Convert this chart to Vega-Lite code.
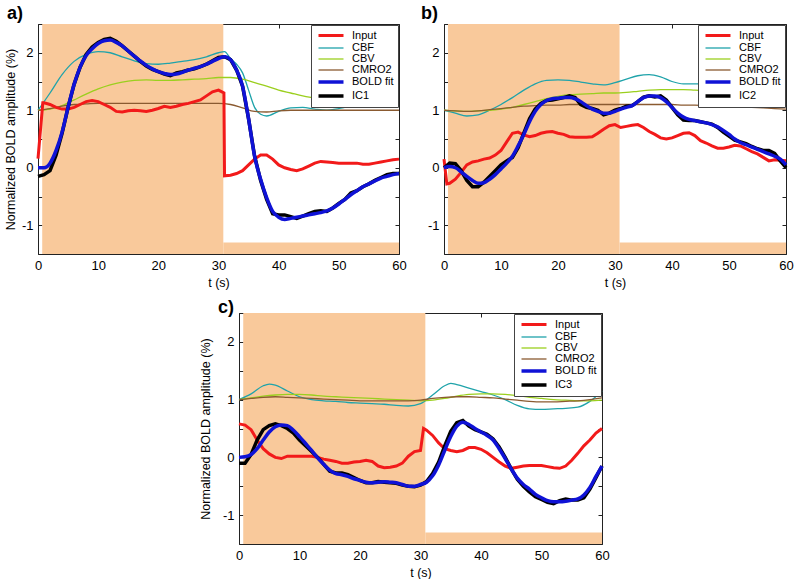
{
"$schema": "https://vega.github.io/schema/vega-lite/v6.json",
"background": "white",
"padding": {"left": 3, "top": 4, "right": 0, "bottom": 0},
"datasets": {
"blocks": [{"t1":0.7,"t2":30.8,"v1":-1.5,"v2":2.5},{"t1":30.8,"t2":60,"v1":-1.5,"v2":-1.3}],
"curves": [
{"p":"a","t":0,"Input":0.16,"BOLD":0,"IC":-0.15,"CBF":1,"CBV":1,"CMRO2":1},
{"p":"a","t":0.8,"Input":1.13},
{"p":"a","t":1,"Input":1.13,"BOLD":0,"IC":-0.12},
{"p":"a","t":2,"Input":1.1,"BOLD":0.08,"IC":-0.05,"CBF":1.3,"CBV":1.02,"CMRO2":1.03},
{"p":"a","t":3,"Input":1.05,"BOLD":0.3,"IC":0.22},
{"p":"a","t":4,"Input":1.02,"BOLD":0.62,"IC":0.6,"CBF":1.62,"CBV":1.08,"CMRO2":1.07},
{"p":"a","t":5,"Input":1.02,"BOLD":1.05,"IC":1.05},
{"p":"a","t":6,"Input":1.05,"BOLD":1.45,"IC":1.45,"CBF":1.85,"CBV":1.18,"CMRO2":1.1},
{"p":"a","t":7,"Input":1.1,"BOLD":1.75,"IC":1.75},
{"p":"a","t":8,"Input":1.15,"BOLD":1.95,"IC":1.97,"CBF":1.97,"CBV":1.28,"CMRO2":1.11},
{"p":"a","t":9,"Input":1.17,"BOLD":2.07,"IC":2.1},
{"p":"a","t":10,"Input":1.15,"BOLD":2.16,"IC":2.18,"CBF":2.02,"CBV":1.37,"CMRO2":1.12},
{"p":"a","t":11,"Input":1.1,"BOLD":2.21,"IC":2.23},
{"p":"a","t":12,"Input":1.05,"BOLD":2.22,"IC":2.25,"CBF":2.0,"CBV":1.44,"CMRO2":1.12},
{"p":"a","t":13,"Input":0.98,"BOLD":2.18,"IC":2.2},
{"p":"a","t":14,"Input":0.97,"BOLD":2.12,"IC":2.12,"CBF":1.93,"CBV":1.49,"CMRO2":1.12},
{"p":"a","t":15,"Input":0.99,"BOLD":2.03,"IC":2.03},
{"p":"a","t":16,"Input":1.0,"BOLD":1.94,"IC":1.94,"CBF":1.86,"CBV":1.52,"CMRO2":1.12},
{"p":"a","t":17,"Input":0.99,"BOLD":1.86,"IC":1.85},
{"p":"a","t":18,"Input":0.98,"BOLD":1.78,"IC":1.77,"CBF":1.81,"CBV":1.53,"CMRO2":1.12},
{"p":"a","t":19,"Input":1.0,"BOLD":1.72,"IC":1.71},
{"p":"a","t":20,"Input":1.03,"BOLD":1.67,"IC":1.67,"CBF":1.8,"CBV":1.52,"CMRO2":1.12},
{"p":"a","t":21,"Input":1.07,"BOLD":1.64,"IC":1.63},
{"p":"a","t":22,"Input":1.05,"BOLD":1.62,"IC":1.6,"CBF":1.82,"CBV":1.52,"CMRO2":1.12},
{"p":"a","t":23,"Input":1.07,"BOLD":1.63,"IC":1.65},
{"p":"a","t":24,"Input":1.1,"BOLD":1.66,"IC":1.67,"CBF":1.85,"CBV":1.53,"CMRO2":1.12},
{"p":"a","t":25,"Input":1.12,"BOLD":1.7,"IC":1.7},
{"p":"a","t":26,"Input":1.15,"BOLD":1.73,"IC":1.72,"CBF":1.88,"CBV":1.54,"CMRO2":1.12},
{"p":"a","t":27,"Input":1.18,"BOLD":1.76,"IC":1.76},
{"p":"a","t":28,"Input":1.25,"BOLD":1.8,"IC":1.8,"CBF":1.93,"CBV":1.55,"CMRO2":1.12},
{"p":"a","t":29,"Input":1.32,"BOLD":1.85,"IC":1.86},
{"p":"a","t":30,"Input":1.35,"BOLD":1.9,"IC":1.92,"CBF":2.0,"CBV":1.57,"CMRO2":1.12},
{"p":"a","t":30.9,"Input":1.3},
{"p":"a","t":31,"Input":-0.14,"BOLD":1.93,"IC":1.93,"CBF":2.02},
{"p":"a","t":32,"Input":-0.13,"BOLD":1.88,"IC":1.88,"CBF":1.9,"CBV":1.57,"CMRO2":1.1},
{"p":"a","t":33,"Input":-0.1,"BOLD":1.7,"IC":1.7,"CBF":1.8},
{"p":"a","t":34,"Input":-0.05,"BOLD":1.42,"IC":1.42,"CBF":1.65,"CBV":1.54,"CMRO2":1.04},
{"p":"a","t":35,"Input":0.05,"BOLD":0.85,"IC":0.85,"CBF":1.35},
{"p":"a","t":36,"Input":0.15,"BOLD":0.2,"IC":0.2,"CBF":1.05,"CBV":1.48,"CMRO2":0.98},
{"p":"a","t":37,"Input":0.22,"BOLD":-0.2,"IC":-0.22,"CBF":0.93},
{"p":"a","t":38,"Input":0.22,"BOLD":-0.52,"IC":-0.55,"CBF":0.9,"CBV":1.42,"CMRO2":0.97},
{"p":"a","t":39,"Input":0.15,"BOLD":-0.76,"IC":-0.8},
{"p":"a","t":40,"Input":0.05,"BOLD":-0.86,"IC":-0.82,"CBF":0.98,"CBV":1.35,"CMRO2":0.99},
{"p":"a","t":41,"Input":0.0,"BOLD":-0.9,"IC":-0.82},
{"p":"a","t":42,"Input":-0.03,"BOLD":-0.88,"IC":-0.85,"CBF":1.04,"CBV":1.3,"CMRO2":1.0},
{"p":"a","t":43,"Input":-0.05,"BOLD":-0.86,"IC":-0.88},
{"p":"a","t":44,"Input":-0.02,"BOLD":-0.84,"IC":-0.84,"CBF":1.05,"CBV":1.25,"CMRO2":1.0},
{"p":"a","t":45,"Input":0.03,"BOLD":-0.82,"IC":-0.8},
{"p":"a","t":46,"Input":0.08,"BOLD":-0.8,"IC":-0.76,"CBF":1.02,"CBV":1.21,"CMRO2":1.0},
{"p":"a","t":47,"Input":0.11,"BOLD":-0.78,"IC":-0.75},
{"p":"a","t":48,"Input":0.1,"BOLD":-0.75,"IC":-0.76,"CBF":1.0,"CBV":1.17,"CMRO2":1.0},
{"p":"a","t":49,"Input":0.09,"BOLD":-0.7,"IC":-0.7},
{"p":"a","t":50,"Input":0.08,"BOLD":-0.63,"IC":-0.62,"CBF":1.03,"CBV":1.14,"CMRO2":1.0},
{"p":"a","t":51,"Input":0.08,"BOLD":-0.55,"IC":-0.55},
{"p":"a","t":52,"Input":0.08,"BOLD":-0.47,"IC":-0.44,"CBF":1.07,"CBV":1.11,"CMRO2":1.0},
{"p":"a","t":53,"Input":0.08,"BOLD":-0.4,"IC":-0.4},
{"p":"a","t":54,"Input":0.06,"BOLD":-0.33,"IC":-0.33,"CBF":1.08,"CBV":1.09,"CMRO2":1.0},
{"p":"a","t":55,"Input":0.06,"BOLD":-0.28,"IC":-0.28},
{"p":"a","t":56,"Input":0.08,"BOLD":-0.23,"IC":-0.22,"CBF":1.08,"CBV":1.08,"CMRO2":1.0},
{"p":"a","t":57,"Input":0.1,"BOLD":-0.18,"IC":-0.17},
{"p":"a","t":58,"Input":0.12,"BOLD":-0.15,"IC":-0.12,"CBF":1.08,"CBV":1.07,"CMRO2":1.0},
{"p":"a","t":59,"Input":0.14,"BOLD":-0.12,"IC":-0.1},
{"p":"a","t":60,"Input":0.15,"BOLD":-0.1,"IC":-0.1,"CBF":1.08,"CBV":1.07,"CMRO2":1.0},
{"p":"b","t":0,"Input":0.15,"BOLD":0,"IC":0,"CBF":1,"CBV":1,"CMRO2":1},
{"p":"b","t":0.5,"Input":-0.28},
{"p":"b","t":1,"Input":-0.27,"BOLD":0.02,"IC":0.08},
{"p":"b","t":2,"Input":-0.2,"BOLD":0.0,"IC":0.07,"CBF":0.95,"CBV":0.99,"CMRO2":0.99},
{"p":"b","t":3,"Input":-0.08,"BOLD":-0.07,"IC":-0.05},
{"p":"b","t":4,"Input":0.05,"BOLD":-0.15,"IC":-0.22,"CBF":0.9,"CBV":0.98,"CMRO2":0.98},
{"p":"b","t":5,"Input":0.1,"BOLD":-0.22,"IC":-0.33},
{"p":"b","t":6,"Input":0.12,"BOLD":-0.27,"IC":-0.33,"CBF":0.92,"CBV":0.99,"CMRO2":0.99},
{"p":"b","t":7,"Input":0.15,"BOLD":-0.26,"IC":-0.25},
{"p":"b","t":8,"Input":0.17,"BOLD":-0.2,"IC":-0.15,"CBF":1.0,"CBV":1.0,"CMRO2":1.01},
{"p":"b","t":9,"Input":0.22,"BOLD":-0.12,"IC":-0.05},
{"p":"b","t":10,"Input":0.3,"BOLD":-0.02,"IC":0.05,"CBF":1.1,"CBV":1.02,"CMRO2":1.03},
{"p":"b","t":11,"Input":0.45,"BOLD":0.08,"IC":0.12},
{"p":"b","t":12,"Input":0.6,"BOLD":0.2,"IC":0.18,"CBF":1.22,"CBV":1.05,"CMRO2":1.05},
{"p":"b","t":13,"Input":0.62,"BOLD":0.38,"IC":0.35},
{"p":"b","t":14,"Input":0.57,"BOLD":0.58,"IC":0.6,"CBF":1.35,"CBV":1.1,"CMRO2":1.07},
{"p":"b","t":15,"Input":0.54,"BOLD":0.8,"IC":0.85},
{"p":"b","t":16,"Input":0.56,"BOLD":0.98,"IC":1.02,"CBF":1.46,"CBV":1.15,"CMRO2":1.08},
{"p":"b","t":17,"Input":0.6,"BOLD":1.1,"IC":1.12},
{"p":"b","t":18,"Input":0.62,"BOLD":1.17,"IC":1.17,"CBF":1.52,"CBV":1.2,"CMRO2":1.09},
{"p":"b","t":19,"Input":0.63,"BOLD":1.2,"IC":1.18},
{"p":"b","t":20,"Input":0.6,"BOLD":1.21,"IC":1.2,"CBF":1.53,"CBV":1.24,"CMRO2":1.09},
{"p":"b","t":21,"Input":0.58,"BOLD":1.22,"IC":1.22},
{"p":"b","t":22,"Input":0.54,"BOLD":1.22,"IC":1.25,"CBF":1.52,"CBV":1.27,"CMRO2":1.1},
{"p":"b","t":23,"Input":0.53,"BOLD":1.2,"IC":1.22},
{"p":"b","t":24,"Input":0.53,"BOLD":1.15,"IC":1.1,"CBF":1.49,"CBV":1.28,"CMRO2":1.1},
{"p":"b","t":25,"Input":0.53,"BOLD":1.08,"IC":1.05},
{"p":"b","t":26,"Input":0.54,"BOLD":1.02,"IC":1.03,"CBF":1.46,"CBV":1.29,"CMRO2":1.1},
{"p":"b","t":27,"Input":0.6,"BOLD":0.98,"IC":1.0},
{"p":"b","t":28,"Input":0.67,"BOLD":0.95,"IC":0.92,"CBF":1.44,"CBV":1.3,"CMRO2":1.1},
{"p":"b","t":29,"Input":0.73,"BOLD":0.95,"IC":0.95},
{"p":"b","t":30,"Input":0.75,"BOLD":0.98,"IC":1.0,"CBF":1.48,"CBV":1.3,"CMRO2":1.1},
{"p":"b","t":31,"Input":0.7,"BOLD":1.02,"IC":1.03},
{"p":"b","t":32,"Input":0.72,"BOLD":1.05,"IC":1.07,"CBF":1.54,"CBV":1.31,"CMRO2":1.1},
{"p":"b","t":33,"Input":0.74,"BOLD":1.08,"IC":1.08},
{"p":"b","t":34,"Input":0.75,"BOLD":1.15,"IC":1.15,"CBF":1.6,"CBV":1.33,"CMRO2":1.1},
{"p":"b","t":35,"Input":0.7,"BOLD":1.22,"IC":1.23},
{"p":"b","t":36,"Input":0.63,"BOLD":1.25,"IC":1.25,"CBF":1.62,"CBV":1.35,"CMRO2":1.1},
{"p":"b","t":37,"Input":0.58,"BOLD":1.25,"IC":1.23},
{"p":"b","t":38,"Input":0.52,"BOLD":1.22,"IC":1.25,"CBF":1.58,"CBV":1.36,"CMRO2":1.1},
{"p":"b","t":39,"Input":0.5,"BOLD":1.15,"IC":1.18},
{"p":"b","t":40,"Input":0.52,"BOLD":1.05,"IC":1.05,"CBF":1.5,"CBV":1.36,"CMRO2":1.1},
{"p":"b","t":41,"Input":0.56,"BOLD":0.95,"IC":0.92},
{"p":"b","t":42,"Input":0.6,"BOLD":0.88,"IC":0.83,"CBF":1.46,"CBV":1.36,"CMRO2":1.09},
{"p":"b","t":43,"Input":0.61,"BOLD":0.84,"IC":0.82},
{"p":"b","t":44,"Input":0.56,"BOLD":0.82,"IC":0.82,"CBF":1.46,"CBV":1.35,"CMRO2":1.09},
{"p":"b","t":45,"Input":0.47,"BOLD":0.8,"IC":0.8},
{"p":"b","t":46,"Input":0.43,"BOLD":0.78,"IC":0.78,"CBF":1.46,"CBV":1.34,"CMRO2":1.08},
{"p":"b","t":47,"Input":0.38,"BOLD":0.75,"IC":0.76},
{"p":"b","t":48,"Input":0.34,"BOLD":0.71,"IC":0.7,"CBF":1.46,"CBV":1.33,"CMRO2":1.08},
{"p":"b","t":49,"Input":0.34,"BOLD":0.65,"IC":0.62},
{"p":"b","t":50,"Input":0.36,"BOLD":0.58,"IC":0.55,"CBF":1.46,"CBV":1.31,"CMRO2":1.07},
{"p":"b","t":51,"Input":0.39,"BOLD":0.5,"IC":0.48},
{"p":"b","t":52,"Input":0.38,"BOLD":0.44,"IC":0.45,"CBF":1.45,"CBV":1.29,"CMRO2":1.06},
{"p":"b","t":53,"Input":0.33,"BOLD":0.4,"IC":0.42},
{"p":"b","t":54,"Input":0.28,"BOLD":0.36,"IC":0.37,"CBF":1.42,"CBV":1.28,"CMRO2":1.05},
{"p":"b","t":55,"Input":0.24,"BOLD":0.32,"IC":0.33},
{"p":"b","t":56,"Input":0.18,"BOLD":0.28,"IC":0.3,"CBF":1.33,"CBV":1.26,"CMRO2":1.04},
{"p":"b","t":57,"Input":0.12,"BOLD":0.24,"IC":0.3},
{"p":"b","t":58,"Input":0.14,"BOLD":0.2,"IC":0.25,"CBF":1.22,"CBV":1.23,"CMRO2":1.03},
{"p":"b","t":59,"Input":0.13,"BOLD":0.15,"IC":0.12},
{"p":"b","t":60,"Input":0.12,"BOLD":0.05,"IC":0.0,"CBF":1.1,"CBV":1.2,"CMRO2":1.02},
{"p":"c","t":0,"Input":0.58,"BOLD":0,"IC":-0.1,"CBF":1,"CBV":1,"CMRO2":1},
{"p":"c","t":1,"Input":0.56,"BOLD":0.01,"IC":-0.1},
{"p":"c","t":2,"Input":0.48,"BOLD":0.05,"IC":0.05,"CBF":1.1,"CBV":1.03,"CMRO2":1.02},
{"p":"c","t":3,"Input":0.3,"BOLD":0.15,"IC":0.3},
{"p":"c","t":4,"Input":0.15,"BOLD":0.3,"IC":0.48,"CBF":1.24,"CBV":1.06,"CMRO2":1.04},
{"p":"c","t":5,"Input":0.06,"BOLD":0.44,"IC":0.55,"CBF":1.27},
{"p":"c","t":6,"Input":0.0,"BOLD":0.53,"IC":0.58,"CBF":1.25,"CBV":1.08,"CMRO2":1.05},
{"p":"c","t":7,"Input":-0.02,"BOLD":0.56,"IC":0.55},
{"p":"c","t":8,"Input":0.02,"BOLD":0.55,"IC":0.5,"CBF":1.15,"CBV":1.09,"CMRO2":1.04},
{"p":"c","t":9,"Input":0.02,"BOLD":0.47,"IC":0.42},
{"p":"c","t":10,"Input":0.02,"BOLD":0.36,"IC":0.3,"CBF":1.05,"CBV":1.09,"CMRO2":1.03},
{"p":"c","t":11,"Input":0.02,"BOLD":0.24,"IC":0.2},
{"p":"c","t":12,"Input":0.02,"BOLD":0.12,"IC":0.1,"CBF":1.0,"CBV":1.08,"CMRO2":1.02},
{"p":"c","t":13,"Input":0.0,"BOLD":-0.01,"IC":0.0},
{"p":"c","t":14,"Input":-0.03,"BOLD":-0.12,"IC":-0.12,"CBF":0.98,"CBV":1.06,"CMRO2":1.01},
{"p":"c","t":15,"Input":-0.05,"BOLD":-0.22,"IC":-0.24},
{"p":"c","t":16,"Input":-0.07,"BOLD":-0.28,"IC":-0.27,"CBF":0.97,"CBV":1.05,"CMRO2":1.0},
{"p":"c","t":17,"Input":-0.1,"BOLD":-0.3,"IC":-0.27},
{"p":"c","t":18,"Input":-0.1,"BOLD":-0.33,"IC":-0.3,"CBF":0.95,"CBV":1.04,"CMRO2":0.99},
{"p":"c","t":19,"Input":-0.08,"BOLD":-0.37,"IC":-0.35},
{"p":"c","t":20,"Input":-0.07,"BOLD":-0.4,"IC":-0.4,"CBF":0.94,"CBV":1.03,"CMRO2":0.98},
{"p":"c","t":21,"Input":-0.05,"BOLD":-0.43,"IC":-0.44},
{"p":"c","t":22,"Input":-0.07,"BOLD":-0.44,"IC":-0.44,"CBF":0.93,"CBV":1.02,"CMRO2":0.98},
{"p":"c","t":23,"Input":-0.15,"BOLD":-0.43,"IC":-0.42},
{"p":"c","t":24,"Input":-0.18,"BOLD":-0.42,"IC":-0.43,"CBF":0.92,"CBV":1.01,"CMRO2":0.98},
{"p":"c","t":25,"Input":-0.17,"BOLD":-0.43,"IC":-0.44},
{"p":"c","t":26,"Input":-0.15,"BOLD":-0.44,"IC":-0.45,"CBF":0.9,"CBV":1.0,"CMRO2":0.98},
{"p":"c","t":27,"Input":-0.1,"BOLD":-0.47,"IC":-0.48},
{"p":"c","t":28,"Input":0.02,"BOLD":-0.5,"IC":-0.5,"CBF":0.89,"CBV":0.99,"CMRO2":0.98},
{"p":"c","t":29,"Input":0.1,"BOLD":-0.5,"IC":-0.51},
{"p":"c","t":30,"Input":0.12,"BOLD":-0.47,"IC":-0.48,"CBF":0.93,"CBV":0.98,"CMRO2":0.99},
{"p":"c","t":30.5,"Input":0.5},
{"p":"c","t":31,"Input":0.47,"BOLD":-0.43,"IC":-0.42},
{"p":"c","t":32,"Input":0.38,"BOLD":-0.32,"IC":-0.28,"CBF":1.08,"CBV":0.99,"CMRO2":1.02},
{"p":"c","t":33,"Input":0.25,"BOLD":-0.13,"IC":-0.08},
{"p":"c","t":34,"Input":0.15,"BOLD":0.12,"IC":0.2,"CBF":1.24,"CBV":1.02,"CMRO2":1.04},
{"p":"c","t":35,"Input":0.12,"BOLD":0.36,"IC":0.45,"CBF":1.28},
{"p":"c","t":36,"Input":0.1,"BOLD":0.54,"IC":0.6,"CBF":1.26,"CBV":1.06,"CMRO2":1.05},
{"p":"c","t":37,"Input":0.12,"BOLD":0.61,"IC":0.64},
{"p":"c","t":38,"Input":0.17,"BOLD":0.57,"IC":0.54,"CBF":1.2,"CBV":1.09,"CMRO2":1.05},
{"p":"c","t":39,"Input":0.17,"BOLD":0.5,"IC":0.48},
{"p":"c","t":40,"Input":0.14,"BOLD":0.44,"IC":0.44,"CBF":1.14,"CBV":1.1,"CMRO2":1.04},
{"p":"c","t":41,"Input":0.08,"BOLD":0.38,"IC":0.4},
{"p":"c","t":42,"Input":0.0,"BOLD":0.3,"IC":0.32,"CBF":1.08,"CBV":1.1,"CMRO2":1.03},
{"p":"c","t":43,"Input":-0.08,"BOLD":0.15,"IC":0.18},
{"p":"c","t":44,"Input":-0.15,"BOLD":-0.02,"IC":0.0,"CBF":1.0,"CBV":1.09,"CMRO2":1.01},
{"p":"c","t":45,"Input":-0.19,"BOLD":-0.2,"IC":-0.2},
{"p":"c","t":46,"Input":-0.17,"BOLD":-0.36,"IC":-0.38,"CBF":0.9,"CBV":1.07,"CMRO2":0.99},
{"p":"c","t":47,"Input":-0.15,"BOLD":-0.47,"IC":-0.5},
{"p":"c","t":48,"Input":-0.14,"BOLD":-0.55,"IC":-0.6,"CBF":0.84,"CBV":1.04,"CMRO2":0.97},
{"p":"c","t":49,"Input":-0.14,"BOLD":-0.64,"IC":-0.68},
{"p":"c","t":50,"Input":-0.14,"BOLD":-0.7,"IC":-0.73,"CBF":0.83,"CBV":1.02,"CMRO2":0.96},
{"p":"c","t":51,"Input":-0.16,"BOLD":-0.75,"IC":-0.78},
{"p":"c","t":52,"Input":-0.18,"BOLD":-0.77,"IC":-0.8,"CBF":0.84,"CBV":1.0,"CMRO2":0.96},
{"p":"c","t":53,"Input":-0.19,"BOLD":-0.77,"IC":-0.75},
{"p":"c","t":54,"Input":-0.15,"BOLD":-0.76,"IC":-0.72,"CBF":0.85,"CBV":0.99,"CMRO2":0.97},
{"p":"c","t":55,"Input":-0.05,"BOLD":-0.74,"IC":-0.74},
{"p":"c","t":56,"Input":0.07,"BOLD":-0.72,"IC":-0.74,"CBF":0.87,"CBV":0.98,"CMRO2":0.98},
{"p":"c","t":57,"Input":0.2,"BOLD":-0.65,"IC":-0.7},
{"p":"c","t":58,"Input":0.3,"BOLD":-0.52,"IC":-0.55,"CBF":0.97,"CBV":0.98,"CMRO2":1.0},
{"p":"c","t":59,"Input":0.42,"BOLD":-0.33,"IC":-0.35},
{"p":"c","t":60,"Input":0.5,"BOLD":-0.15,"IC":-0.15,"CBF":1.15,"CBV":0.99,"CMRO2":1.03}
]
},
"resolve": {"scale": {"color": "independent", "strokeWidth": "independent"}},
"spacing": 9,
"vconcat": [
{
"resolve": {"scale": {"color": "independent", "strokeWidth": "independent"}},
"spacing": 13,
"hconcat": [
{
"width": 361, "height": 230,
"title": {"text": "a)", "dx": -31},
"resolve": {"axis": {"x": "independent", "y": "independent"}},
"layer": [
{"data": {"name": "blocks"}, "mark": {"type": "rect", "color": "#F9C99B"},
 "encoding": {
  "x": {"field": "t1", "type": "quantitative", "scale": {"domain": [0, 60], "nice": false}, "axis": {"title": "t (s)", "values": [0,10,20,30,40,50,60]}},
  "x2": {"field": "t2"},
  "y": {"field": "v1", "type": "quantitative", "scale": {"domain": [-1.5, 2.5], "nice": false}, "axis": {"title": "Normalized BOLD amplitude (%)", "values": [-1.5,-1,-0.5,0,0.5,1,1.5,2,2.5], "labelExpr": "datum.value % 1 === 0 ? '' + datum.value : ''"}},
  "y2": {"field": "v2"}}},
{"data": {"name": "blocks"}, "mark": {"type": "rect", "opacity": 0},
 "encoding": {
  "x": {"field": "t1", "type": "quantitative", "axis": {"orient": "top", "labels": false, "title": null, "values": [0,10,20,30,40,50,60]}},
  "x2": {"field": "t2"},
  "y": {"field": "v1", "type": "quantitative", "axis": {"orient": "right", "labels": false, "title": null, "values": [-1.5,-1,-0.5,0,0.5,1,1.5,2,2.5]}},
  "y2": {"field": "v2"}}},
{"data": {"name": "curves"},
 "transform": [{"filter": "datum.p == 'a'"}, {"fold": ["Input","CBF","CBV","CMRO2","BOLD","IC"], "as": ["s","v"]}, {"filter": "isValid(datum.v)"}],
 "encoding": {
  "x": {"field": "t", "type": "quantitative", "axis": null},
  "y": {"field": "v", "type": "quantitative", "axis": null},
  "color": {"field": "s", "type": "nominal", "scale": {"domain": ["Input","CBF","CBV","CMRO2","BOLD","IC"], "range": ["#F21A1A","#1FA3AA","#9BCF1E","#8A5A30","#0F12D6","#000000"]}, "legend": {"title": null, "labelExpr": "datum.label == 'IC' ? 'IC1' : datum.label == 'BOLD' ? 'BOLD fit' : datum.label"}},
  "strokeWidth": {"field": "s", "type": "nominal", "scale": {"type": "ordinal", "domain": ["Input","CBF","CBV","CMRO2","BOLD","IC"], "range": [3,1.3,1.3,1.3,3.5,3.5]}, "legend": {"title": null, "labelExpr": "datum.label == 'IC' ? 'IC1' : datum.label == 'BOLD' ? 'BOLD fit' : datum.label"}}
 },
 "layer": [
  {"transform": [{"filter": {"field": "s", "oneOf": ["CBF","CBV","CMRO2"]}}], "mark": {"type": "line", "interpolate": "monotone"}},
  {"transform": [{"filter": "datum.s == 'Input'"}], "mark": {"type": "line"}},
  {"transform": [{"filter": "datum.s == 'IC'"}], "mark": {"type": "line"}},
  {"transform": [{"filter": "datum.s == 'BOLD'"}], "mark": {"type": "line", "interpolate": "monotone"}}
 ]}
]
},
{
"width": 342, "height": 230,
"title": {"text": "b)", "dx": -23},
"resolve": {"axis": {"x": "independent", "y": "independent"}},
"layer": [
{"data": {"name": "blocks"}, "mark": {"type": "rect", "color": "#F9C99B"},
 "encoding": {
  "x": {"field": "t1", "type": "quantitative", "scale": {"domain": [0, 60], "nice": false}, "axis": {"title": "t (s)", "values": [0,10,20,30,40,50,60]}},
  "x2": {"field": "t2"},
  "y": {"field": "v1", "type": "quantitative", "scale": {"domain": [-1.5, 2.5], "nice": false}, "axis": {"title": null, "values": [-1.5,-1,-0.5,0,0.5,1,1.5,2,2.5], "labelExpr": "datum.value % 1 === 0 ? '' + datum.value : ''"}},
  "y2": {"field": "v2"}}},
{"data": {"name": "blocks"}, "mark": {"type": "rect", "opacity": 0},
 "encoding": {
  "x": {"field": "t1", "type": "quantitative", "axis": {"orient": "top", "labels": false, "title": null, "values": [0,10,20,30,40,50,60]}},
  "x2": {"field": "t2"},
  "y": {"field": "v1", "type": "quantitative", "axis": {"orient": "right", "labels": false, "title": null, "values": [-1.5,-1,-0.5,0,0.5,1,1.5,2,2.5]}},
  "y2": {"field": "v2"}}},
{"data": {"name": "curves"},
 "transform": [{"filter": "datum.p == 'b'"}, {"fold": ["Input","CBF","CBV","CMRO2","BOLD","IC"], "as": ["s","v"]}, {"filter": "isValid(datum.v)"}],
 "encoding": {
  "x": {"field": "t", "type": "quantitative", "axis": null},
  "y": {"field": "v", "type": "quantitative", "axis": null},
  "color": {"field": "s", "type": "nominal", "scale": {"domain": ["Input","CBF","CBV","CMRO2","BOLD","IC"], "range": ["#F21A1A","#1FA3AA","#9BCF1E","#8A5A30","#0F12D6","#000000"]}, "legend": {"title": null, "labelExpr": "datum.label == 'IC' ? 'IC2' : datum.label == 'BOLD' ? 'BOLD fit' : datum.label"}},
  "strokeWidth": {"field": "s", "type": "nominal", "scale": {"type": "ordinal", "domain": ["Input","CBF","CBV","CMRO2","BOLD","IC"], "range": [3,1.3,1.3,1.3,3.5,3.5]}, "legend": {"title": null, "labelExpr": "datum.label == 'IC' ? 'IC2' : datum.label == 'BOLD' ? 'BOLD fit' : datum.label"}}
 },
 "layer": [
  {"transform": [{"filter": {"field": "s", "oneOf": ["CBF","CBV","CMRO2"]}}], "mark": {"type": "line", "interpolate": "monotone"}},
  {"transform": [{"filter": "datum.s == 'Input'"}], "mark": {"type": "line"}},
  {"transform": [{"filter": "datum.s == 'IC'"}], "mark": {"type": "line"}},
  {"transform": [{"filter": "datum.s == 'BOLD'"}], "mark": {"type": "line", "interpolate": "monotone"}}
 ]}
]
}
]
},
{
"resolve": {"scale": {"color": "independent", "strokeWidth": "independent"}},
"spacing": 10,
"hconcat": [
{"width": 150, "height": 10, "data": {"values": []}, "mark": {"type": "point", "opacity": 0}, "encoding": {}, "view": {"stroke": null}},
{
"width": 363, "height": 231,
"title": {"text": "c)", "dx": -21, "dy": 5},
"resolve": {"axis": {"x": "independent", "y": "independent"}},
"layer": [
{"data": {"name": "blocks"}, "mark": {"type": "rect", "color": "#F9C99B"},
 "encoding": {
  "x": {"field": "t1", "type": "quantitative", "scale": {"domain": [0, 60], "nice": false}, "axis": {"title": "t (s)", "values": [0,10,20,30,40,50,60]}},
  "x2": {"field": "t2"},
  "y": {"field": "v1", "type": "quantitative", "scale": {"domain": [-1.5, 2.5], "nice": false}, "axis": {"title": "Normalized BOLD amplitude (%)", "titlePadding": 10, "values": [-1.5,-1,-0.5,0,0.5,1,1.5,2,2.5], "labelExpr": "datum.value % 1 === 0 ? '' + datum.value : ''"}},
  "y2": {"field": "v2"}}},
{"data": {"name": "blocks"}, "mark": {"type": "rect", "opacity": 0},
 "encoding": {
  "x": {"field": "t1", "type": "quantitative", "axis": {"orient": "top", "labels": false, "title": null, "values": [0,10,20,30,40,50,60]}},
  "x2": {"field": "t2"},
  "y": {"field": "v1", "type": "quantitative", "axis": {"orient": "right", "labels": false, "title": null, "values": [-1.5,-1,-0.5,0,0.5,1,1.5,2,2.5]}},
  "y2": {"field": "v2"}}},
{"data": {"name": "curves"},
 "transform": [{"filter": "datum.p == 'c'"}, {"fold": ["Input","CBF","CBV","CMRO2","BOLD","IC"], "as": ["s","v"]}, {"filter": "isValid(datum.v)"}],
 "encoding": {
  "x": {"field": "t", "type": "quantitative", "axis": null},
  "y": {"field": "v", "type": "quantitative", "axis": null},
  "color": {"field": "s", "type": "nominal", "scale": {"domain": ["Input","CBF","CBV","CMRO2","BOLD","IC"], "range": ["#F21A1A","#1FA3AA","#9BCF1E","#8A5A30","#0F12D6","#000000"]}, "legend": {"title": null, "labelExpr": "datum.label == 'IC' ? 'IC3' : datum.label == 'BOLD' ? 'BOLD fit' : datum.label"}},
  "strokeWidth": {"field": "s", "type": "nominal", "scale": {"type": "ordinal", "domain": ["Input","CBF","CBV","CMRO2","BOLD","IC"], "range": [3,1.3,1.3,1.3,3.5,3.5]}, "legend": {"title": null, "labelExpr": "datum.label == 'IC' ? 'IC3' : datum.label == 'BOLD' ? 'BOLD fit' : datum.label"}}
 },
 "layer": [
  {"transform": [{"filter": {"field": "s", "oneOf": ["CBF","CBV","CMRO2"]}}], "mark": {"type": "line", "interpolate": "monotone"}},
  {"transform": [{"filter": "datum.s == 'Input'"}], "mark": {"type": "line"}},
  {"transform": [{"filter": "datum.s == 'IC'"}], "mark": {"type": "line"}},
  {"transform": [{"filter": "datum.s == 'BOLD'"}], "mark": {"type": "line", "interpolate": "monotone"}}
 ]}
]
}
]
}
],
"config": {
 "font": "Liberation Sans",
 "view": {"stroke": "#222222", "strokeWidth": 1},
 "title": {"anchor": "start", "frame": "group", "fontSize": 18, "fontWeight": "bold", "color": "#000000", "offset": 1},
 "axis": {"grid": false, "domain": false, "tickColor": "#222222", "tickSize": -4, "labelPadding": 9, "labelFontSize": 13, "labelColor": "#000000", "titleFontSize": 12.5, "titleFontWeight": "normal", "titleColor": "#000000", "titlePadding": 4, "labelFlush": false},
 "legend": {"orient": "top-right", "offset": 1, "padding": 4, "strokeColor": "#444444", "fillColor": "white", "labelFontSize": 11, "labelColor": "#000000", "symbolType": "M-2.5,0H2.5", "symbolSize": 100, "symbolOffset": 9, "rowPadding": -1, "labelOffset": 14, "cornerRadius": 0}
}
}
